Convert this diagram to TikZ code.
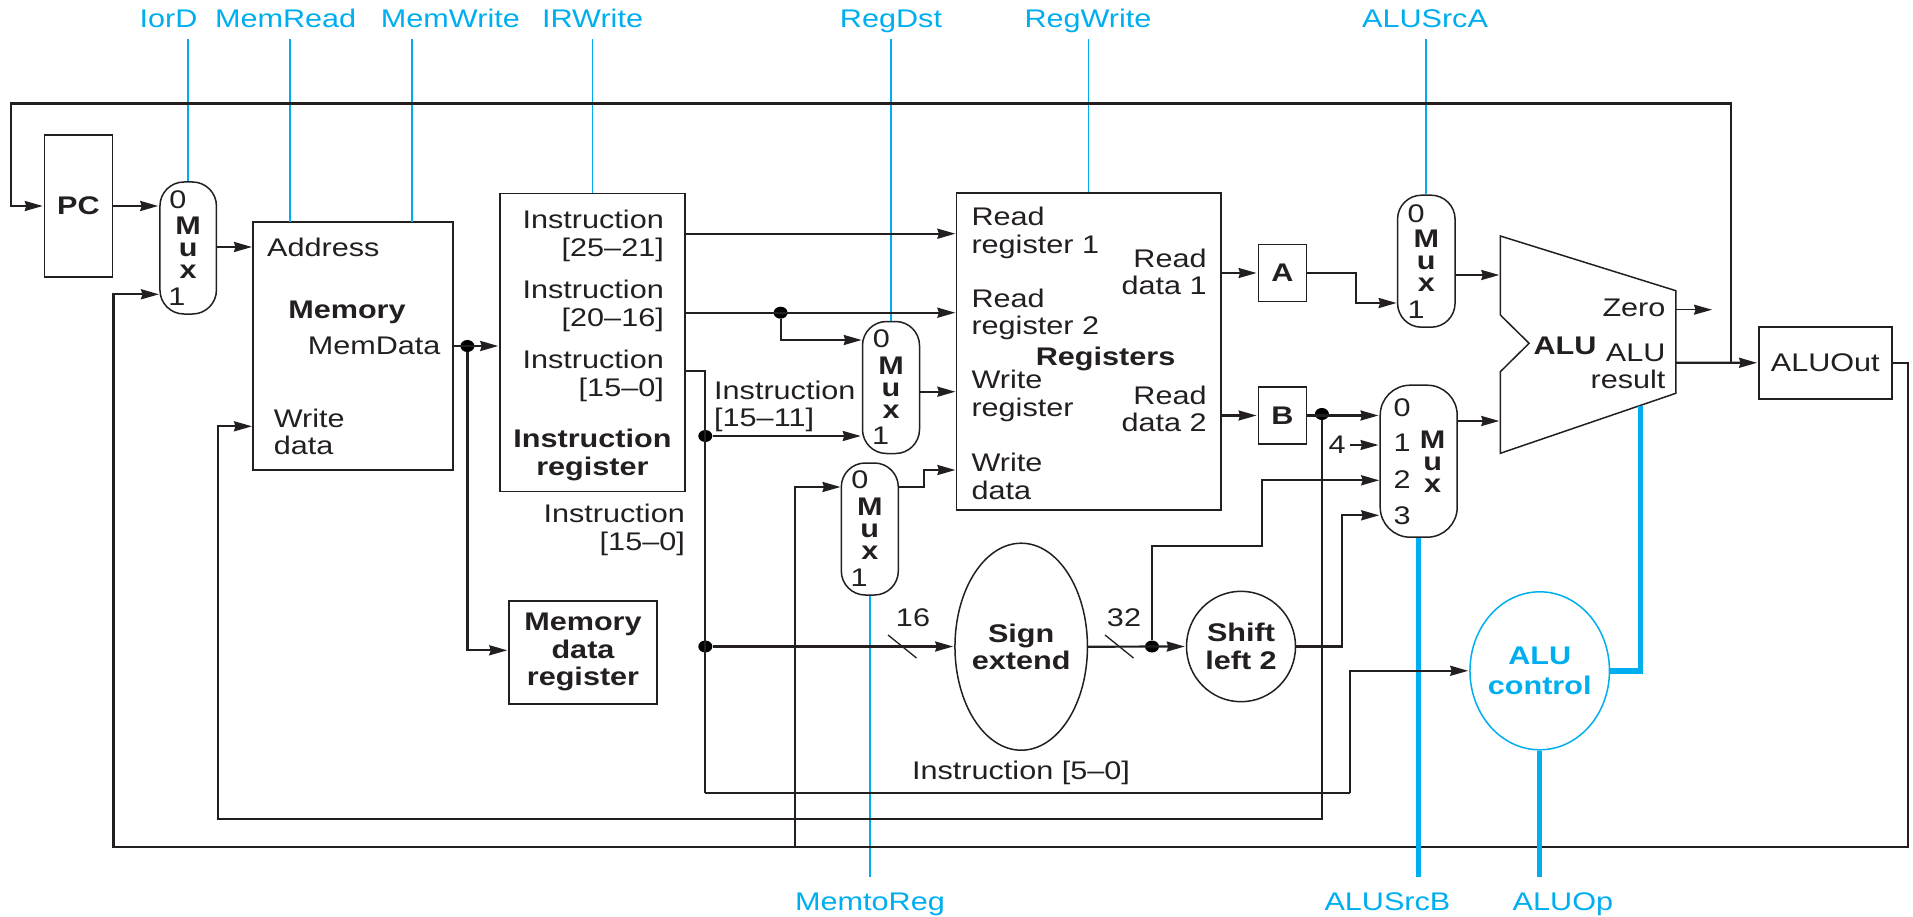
\documentclass[tikz,border=0pt]{standalone}
\usepackage{fontspec}
\usepackage{xcolor}
\usepackage{tikz}
\usetikzlibrary{positioning,arrows.meta,shapes.geometric}
\setmainfont[FakeStretch=1.2]{Liberation Sans}
\definecolor{inkblack}{RGB}{35,31,32}
\definecolor{ctrlblue}{RGB}{0,174,239}

\begin{document}
\begin{tikzpicture}[
    x=1pt, y=-1pt,
    every node/.style={font=\fontsize{25.5}{27.5}\selectfont, inner sep=0pt, text=inkblack, align=center},
    boldlabel/.style={font=\fontsize{25.5}{27.5}\selectfont\bfseries},
    muxtext/.style={font=\fontsize{25.5}{22}\selectfont\bfseries},
    box/.style={rectangle, draw=inkblack, line width=1.5pt},
    mux/.style={muxtext, rectangle, draw=inkblack, line width=1.5pt, rounded corners=24pt},
    blob/.style={ellipse, draw=inkblack, line width=1.5pt, inner sep=-14pt, font=\fontsize{25.5}{27.5}\selectfont\bfseries},
    junction/.style={ellipse, fill=black, minimum width=14pt, minimum height=12pt},
    ctrllabel/.style={text=ctrlblue, text height=18pt, text depth=5pt},
    wire/.style={draw=inkblack, line width=2.2pt},
    arrow/.style={wire, -{Stealth[length=18pt, width=10pt, inset=1.5pt]}, shorten >=1pt},
    thinarrow/.style={arrow, line width=1.5pt},
    slash/.style={draw=inkblack, line width=1.3pt},
    ctrlline/.style={draw=ctrlblue, line width=1.7pt},
    ctrlthick/.style={draw=ctrlblue, line width=5.5pt},
    fromtop/.style={shorten <=7pt},
    tobottom/.style={shorten >=15pt}
]
    \useasboundingbox (0,0) rectangle (1913,917);

    % Nodes
    \node[box, boldlabel, minimum width=68pt, minimum height=142pt] (pc) at (78.5,206) {PC};
    \node[box, minimum width=200pt, minimum height=248pt] (mem) at (353,346) {};
    \node[box, minimum width=185pt, minimum height=298pt] (ir) at (592.5,342.5) {};
    \node[box, boldlabel, minimum width=148pt, minimum height=103pt] (mdr) at (583,652.3) {Memory\\data\\register};
    \node[box, minimum width=264.5pt, minimum height=317pt] (regs) at (1088.6,351.6) {};
    \node[box, boldlabel, minimum width=48pt, minimum height=57pt] (a) at (1282.3,273) {A};
    \node[box, boldlabel, minimum width=48pt, minimum height=57pt, below=84pt of a] (b) {B};
    \node[box, minimum width=133pt, minimum height=72pt] (aluout) at (1825.3,362.8) {ALUOut};

    % Muxes
    \node[mux, minimum width=56.5pt, minimum height=132pt] (pcmux) at (188.2,248) {M\\u\\x};
    \node[mux, minimum width=57pt, minimum height=132pt] (dstmux) at (891,387.5) {M\\u\\x};
    \node[mux, minimum width=57pt, minimum height=132pt] (wbmux) at (869.8,529) {M\\u\\x};
    \node[mux, minimum width=57.5pt, minimum height=132pt] (srcamux) at (1426.3,261.2) {M\\u\\x};
    \node[mux, minimum width=77pt, minimum height=152pt, rounded corners=30pt] (srcbmux) at (1418.7,461.2) {};
    \node[muxtext] (srcbtext) at (1432.7,462) {M\\u\\x};
    \node (pcmuxa) at (178,200) {0};
    \node (pcmuxb) at (177,296.7) {1};
    \node (dstmuxa) at (881.3,339) {0};
    \node (dstmuxb) at (880.5,435.7) {1};
    \node (wbmuxa) at (859.8,480) {0};
    \node (wbmuxb) at (859,578) {1};
    \node (srcamuxa) at (1416,213.3) {0};
    \node (srcamuxb) at (1416,309.7) {1};
    \node (srcbmuxa) at (1402.2,408) {0};
    \node (srcbmuxb) at (1402.2,443) {1};
    \node (srcbmuxc) at (1402.2,480) {2};
    \node (srcbmuxd) at (1402.2,516) {3};

    % Ellipses
    \node[blob, minimum width=132.5pt, minimum height=207pt] (sign) at (1021.2,646.7) {Sign\\extend};
    \node[blob, minimum width=109pt, minimum height=110.4pt] (shift) at (1241,646.5) {Shift\\left 2};
    \node[blob, draw=ctrlblue, text=ctrlblue, minimum width=139.5pt, minimum height=158pt, font=\fontsize{25.5}{30}\selectfont\bfseries] (alucontrol) at (1539.7,670.8) {ALU\\control};

    % Labels inside the blocks
    \node[anchor=west] (address) at (267,247.7) {Address};
    \node[boldlabel] (memory) at (347,312.7) {Memory};
    \node[anchor=east] (memdata) at (440.6,345.7) {MemData};
    \node[anchor=west, align=left] (memwrdata) at (273.7,432) {Write\\data};
    \node[anchor=east, align=right] (ira) at (664,236) {Instruction\\{[25–21]}};
    \node[anchor=east, align=right] (irb) at (664,306) {Instruction\\{[20–16]}};
    \node[anchor=east, align=right] (irc) at (664,376) {Instruction\\{[15–0]}};
    \node[boldlabel] (irname) at (592.4,454.9) {Instruction\\register};
    \node[anchor=east, align=right] (irlow) at (685,530) {Instruction\\{[15–0]}};
    \node[anchor=west, align=left] (irrd) at (714,406.5) {Instruction\\{[15–11]}};
    \node[anchor=west, align=left] (rrega) at (971.3,233) {Read\\register 1};
    \node[anchor=west, align=left] (rregb) at (971.3,314.5) {Read\\register 2};
    \node[anchor=west, align=left] (wreg) at (971.3,395.7) {Write\\register};
    \node[anchor=west, align=left] (wdata) at (971.3,476.3) {Write\\data};
    \node[boldlabel] (regname) at (1105.6,359) {Registers};
    \node[anchor=east, align=right] (rdata) at (1206.8,272) {Read\\data 1};
    \node[anchor=east, align=right] (rdatb) at (1206.8,409) {Read\\data 2};
    \node (sixteen) at (913,618) {16};
    \node (thirtytwo) at (1124,618) {32};
    \node (funct) at (1021,773) {Instruction [5–0]};
    \node (four) at (1337.1,445) {4};
    \node[boldlabel] (aluname) at (1565,345.7) {ALU};
    \node[anchor=east] (zero) at (1665.6,307.7) {Zero};
    \node[anchor=east, align=right] (alures) at (1665.6,366.3) {ALU\\result};

    % Control labels
    \node[ctrllabel] (iord) at (168.5,20.8) {IorD};
    \node[ctrllabel] (memread) at (285.7,20.8) {MemRead};
    \node[ctrllabel] (memwrite) at (450.4,20.8) {MemWrite};
    \node[ctrllabel] (irwrite) at (592.6,20.8) {IRWrite};
    \node[ctrllabel] (regdst) at (891,20.8) {RegDst};
    \node[ctrllabel] (regwrite) at (1088,20.8) {RegWrite};
    \node[ctrllabel] (alusrca) at (1425,20.8) {ALUSrcA};
    \node[ctrllabel] (memtoreg) at (870,903.5) {MemtoReg};
    \node[ctrllabel] (alusrcb) at (1387.4,903.5) {ALUSrcB};
    \node[ctrllabel] (aluop) at (1562.9,903.5) {ALUOp};

    % Junctions
    \node[junction] (memdot) at (467.4,346) {};
    \node[junction] (rtdot) at (780.6,312.7) {};
    \node[junction] (rddot) at (705.3,436) {};
    \node[junction] (immdot) at (705.3,646.5) {};
    \node[junction] (extdot) at (1152,646.5) {};
    \node[junction] (bdot) at (1321.9,414) {};

    % Named points on the wires
    \coordinate (memaddr) at (253,247);
    \coordinate (memwd) at (253,426.3);
    \coordinate (rra) at (956.4,233.7);
    \coordinate (rrb) at (956.4,312.7);
    \coordinate (wrr) at (956.4,391.7);
    \coordinate (wrd) at (956.4,470);
    \coordinate (wbstep) at (924,470);
    \coordinate (wbin) at (841.5,487);
    \coordinate (pcin) at (160,294.3);
    \coordinate (dstin) at (862.7,340);
    \coordinate (irout) at (685,370.7);
    \coordinate (irdown) at (705.3,793.3);
    \coordinate (ctrlup) at (1350.2,793.3);
    \coordinate (toploop) at (10.7,103.5);
    \coordinate (pcjoin) at (1730.8,362.7);
    \coordinate (botright) at (1907.9,846.7);
    \coordinate (botleft) at (113.4,846.7);
    \coordinate (wbtap) at (794.6,846.7);
    \coordinate (midloop) at (217.9,819.3);
    \coordinate (signup) at (1261.6,546.3);
    \coordinate (srcbc) at (1380.2,480.3);
    \coordinate (srcbd) at (1380.2,515.3);
    \coordinate (shiftbend) at (1342.2,515.3);
    \coordinate (abend) at (1355.7,303);
    \coordinate (srcain) at (1397.6,303);
    \coordinate (alua) at (1500.3,275);
    \coordinate (alub) at (1500.3,421);
    \coordinate (aluright) at (1675.8,362.7);
    \coordinate (zeroout) at (1675.8,309.7);
    \coordinate (zeroend) at (1713,309.7);
    \coordinate (memrd) at (289.7,221.7);
    \coordinate (memwr) at (412,221.7);
    \coordinate (aluctl) at (1640.3,406);

    % Thin control lines
    \draw[ctrlline, fromtop] (iord.south -| pcmux.north) -- (pcmux.north);
    \draw[ctrlline, fromtop] (memread.south -| memrd) -- (memrd);
    \draw[ctrlline, fromtop] (memwrite.south -| memwr) -- (memwr);
    \draw[ctrlline, fromtop] (irwrite.south -| ir.north) -- (ir.north);
    \draw[ctrlline, fromtop] (regdst.south -| dstmux.north) -- (dstmux.north);
    \draw[ctrlline, fromtop] (regwrite.south -| regs.north) -- (regs.north);
    \draw[ctrlline, fromtop] (alusrca.south -| srcamux.north) -- (srcamux.north);
    \draw[ctrlline, tobottom] (wbmux.south) -- (wbmux.south |- memtoreg.north);

    % Arrows
    \draw[arrow] (pcjoin) |- (toploop) |- (pc.west);
    \draw[arrow] (pc.east) -- (pc.east -| pcmux.west);
    \draw[arrow] (pcmux.east |- memaddr) -- (memaddr);
    \draw[arrow] (mem.east) -- (mem.east -| ir.west);
    \draw[arrow] (memdot) |- ([yshift=2pt]mdr.west);
    \draw[arrow] (ir.east |- rra) -- (rra);
    \draw[arrow] (ir.east |- rrb) -- (rrb);
    \draw[arrow] (rtdot) |- (dstin);
    \draw[arrow] (rddot) -- (rddot -| dstmux.west);
    \draw[arrow] (dstmux.east |- wrr) -- (wrr);
    \draw[arrow] (wbmux.east |- wbin) -| (wbstep) -- (wrd);
    \draw[arrow] (wbtap) |- (wbin);
    \draw[arrow] (immdot) -- (immdot -| sign.west);
    \draw[arrow] (sign.east) -- (shift.west);
    \draw[arrow] (extdot) |- (signup) |- (srcbc);
    \draw[arrow] (shift.east) -| (shiftbend) -- (srcbd);
    \draw[arrow] (regs.east |- a) -- (a.west);
    \draw[arrow] (regs.east |- b) -- (b.west);
    \draw[arrow] (a.east) -| (abend) -- (srcain);
    \draw[arrow] (b.east) -- (b.east -| srcbmux.west);
    \draw[arrow] (srcamux.east |- alua) -- (alua);
    \draw[arrow] (srcbmux.east |- alub) -- (alub);
    \draw[arrow] (aluright) -- (aluout.west);
    \draw[arrow] (aluout.east) -| (botright) -- (botleft) |- (pcin);
    \draw[arrow] (bdot) |- (midloop) |- (memwd);
    \draw[thinarrow] (zeroout) -- (zeroend);
    \draw[thinarrow, shorten <=4pt] (four.east) -- (four.east -| srcbmux.west);
    \draw[wire] (irout) -| (irdown);
    \draw[wire] (irdown) -- (ctrlup);

    % ALU outline and bus marks
    \draw[draw=inkblack, line width=1.5pt] (1500.3,236) -- (1675.8,290.7) -- (1675.8,393.3) -- (1500.3,453.3) -- (1500.3,371.7) -- (1529.1,343.3) -- (1500.3,315) -- cycle;
    \draw[slash] (888,635) -- (916.5,658);
    \draw[slash] (1105,635) -- (1133.5,658);

    % Thick control lines
    \draw[ctrlthick, tobottom] (srcbmux.south) -- (srcbmux.south |- alusrcb.north);
    \draw[ctrlthick, tobottom] (alucontrol.south) -- (alucontrol.south |- aluop.north);
    \draw[ctrlthick] (aluctl) |- (alucontrol.east);
    \draw[arrow] (ctrlup) |- (alucontrol.west);
\end{tikzpicture}
\end{document}
